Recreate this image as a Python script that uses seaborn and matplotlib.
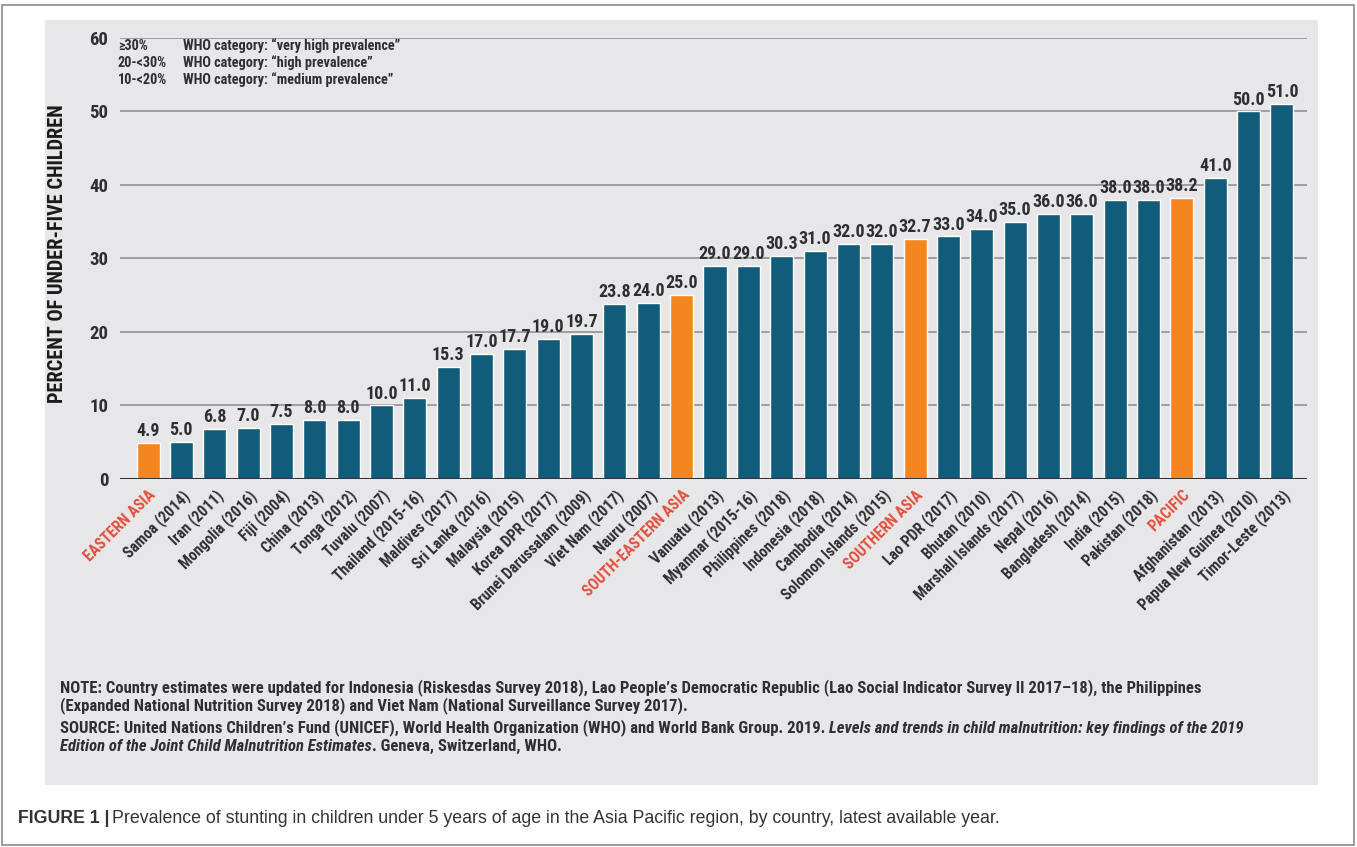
import matplotlib
matplotlib.use("Agg")
import matplotlib.pyplot as plt
from matplotlib import font_manager
import seaborn as sns
import pandas as pd
from matplotlib.patches import Rectangle

labels = ["EASTERN ASIA", "Samoa (2014)", "Iran (2011)", "Mongolia (2016)", "Fiji (2004)",
          "China (2013)", "Tonga (2012)", "Tuvalu (2007)", "Thailand (2015-16)", "Maldives (2017)",
          "Sri Lanka (2016)", "Malaysia (2015)", "Korea DPR (2017)", "Brunei Darussalam (2009)",
          "Viet Nam (2017)", "Nauru (2007)", "SOUTH-EASTERN ASIA", "Vanuatu (2013)",
          "Myanmar (2015-16)", "Philippines (2018)", "Indonesia (2018)", "Cambodia (2014)",
          "Solomon Islands (2015)", "SOUTHERN ASIA", "Lao PDR (2017)", "Bhutan (2010)",
          "Marshall Islands (2017)", "Nepal (2016)", "Bangladesh (2014)", "India (2015)",
          "Pakistan (2018)", "PACIFIC", "Afghanistan (2013)", "Papua New Guinea (2010)",
          "Timor-Leste (2013)"]
values = [4.9, 5.0, 6.8, 7.0, 7.5, 8.0, 8.0, 10.0, 11.0, 15.3, 17.0, 17.7, 19.0, 19.7,
          23.8, 24.0, 25.0, 29.0, 29.0, 30.3, 31.0, 32.0, 32.0, 32.7, 33.0, 34.0, 35.0,
          36.0, 36.0, 38.0, 38.0, 38.2, 41.0, 50.0, 51.0]
regions = ["EASTERN ASIA", "SOUTH-EASTERN ASIA", "SOUTHERN ASIA", "PACIFIC"]
kind = ["region" if l in regions else "country" for l in labels]

legend_ranges = ["\u226530%", "20-<30%", "10-<20%"]
legend_texts = ["WHO category: \u201cvery high prevalence\u201d",
                "WHO category: \u201chigh prevalence\u201d",
                "WHO category: \u201cmedium prevalence\u201d"]

note1 = ("NOTE: Country estimates were updated for Indonesia (Riskesdas Survey 2018), Lao People\u2019s "
         "Democratic Republic (Lao Social Indicator Survey II 2017\u201318), the Philippines")
note2 = "(Expanded National Nutrition Survey 2018) and Viet Nam (National Surveillance Survey 2017)."
source1 = ("SOURCE: United Nations Children\u2019s Fund (UNICEF), World Health Organization "
           "(WHO) and World Bank Group. 2019. ")
source1_it = "Levels and trends in child malnutrition: key findings of the 2019"
source2_it = "Edition of the Joint Child Malnutrition Estimates"
source2 = ". Geneva, Switzerland, WHO."
caption_bold = "FIGURE 1 |"
caption = ("Prevalence of stunting in children under 5 years of age in the Asia Pacific "
           "region, by country, latest available year.")

blue = "#115b7b"
orange = "#f5861f"
red_lbl = "#e2503a"
txt = "#2f2f33"
panel = "#e7e7e9"

df = pd.DataFrame({"label": labels, "value": values, "kind": kind})

# pick a narrow face if one is there
names = {f.name for f in font_manager.fontManager.ttflist}
narrow = None
for n in ["Liberation Sans Narrow", "DejaVu Sans Condensed", "Roboto Condensed"]:
    if n in names:
        narrow = n
        break
if narrow is None:
    narrow = "Liberation Sans"
    k = 0.86
else:
    k = 1.0

sns.set_theme(style="white")
plt.rcParams["font.family"] = [narrow, "DejaVu Sans"]

W, H = 1357, 847
fig = plt.figure(figsize=(W / 100, H / 100), dpi=100)
fig.patch.set_facecolor("white")


def fx(px):
    return px / W


def fy(py):
    return 1 - py / H


# outer frame and grey panel
fig.patches.append(Rectangle((0.0015, 0.002), 0.996, 0.992, transform=fig.transFigure,
                             fill=False, edgecolor="#8a8a8a", linewidth=1.2, zorder=-2))
fig.patches.append(Rectangle((fx(45), fy(785)), fx(1318 - 45), (785 - 20) / H,
                             transform=fig.transFigure, facecolor=panel, edgecolor="none",
                             zorder=-2))

ax = fig.add_axes([fx(120), fy(479), fx(1307 - 120), (479 - 38) / H])
ax.patch.set_alpha(0)

sns.barplot(data=df, x="label", y="value", hue="kind",
            palette={"country": blue, "region": orange},
            dodge=False, legend=False, width=0.69, saturation=1, ax=ax, zorder=3)

ax.set_ylim(0, 60)
ax.set_xlim(-0.84, 34.75)
ax.set_yticks(range(0, 61, 10))
for y in range(10, 61, 10):
    ax.axhline(y, color="#8a8a8a", lw=1.1, zorder=1)
ax.axhline(0, color="#333333", lw=2.2, zorder=4)
for s in ax.spines.values():
    s.set_visible(False)

ax.tick_params(axis="y", length=0, pad=8.5, labelsize=13.5 * k, labelcolor=txt)
ax.tick_params(axis="x", length=0, pad=6, labelsize=11.2 * k)
for t in ax.get_yticklabels():
    t.set_fontweight("bold")
ax.set_xticks(range(len(labels)))
ax.set_xticklabels(labels, rotation=45, ha="right", rotation_mode="anchor", fontweight="bold")
for t, kd in zip(ax.get_xticklabels(), kind):
    t.set_color(red_lbl if kd == "region" else txt)

for i, v in enumerate(values):
    ax.text(i, v + 0.4, f"{v:.1f}", ha="center", va="bottom", fontsize=13 * k,
            fontweight="bold", color=txt, zorder=5)

ax.set_xlabel("")
ax.set_ylabel("PERCENT OF UNDER-FIVE CHILDREN", fontsize=14.7 * k, fontweight="bold",
              color="#1a1a1a")
ax.yaxis.set_label_coords(-0.045, 0.51)

for j, (r, t) in enumerate(zip(legend_ranges, legend_texts)):
    yy = fy(46 + j * 17)
    fig.text(fx(118), yy, r, fontsize=10.3 * k, fontweight="bold", color=txt, va="center")
    fig.text(fx(183), yy, t, fontsize=10.3 * k, fontweight="bold", color=txt, va="center")

fs = 12.0 * k
fig.text(fx(60), fy(688), note1, fontsize=fs, fontweight="bold", color=txt, va="center")
fig.text(fx(60), fy(706), note2, fontsize=fs, fontweight="bold", color=txt, va="center")
t1 = fig.text(fx(60), fy(728), source1, fontsize=fs, fontweight="bold", color=txt, va="center")
fig.canvas.draw()
bb = t1.get_window_extent()
fig.text(bb.x1 / W, fy(728), source1_it, fontsize=fs, fontweight="bold",
         style="italic", color=txt, va="center")
t2 = fig.text(fx(60), fy(746), source2_it, fontsize=fs, fontweight="bold", style="italic",
              color=txt, va="center")
fig.canvas.draw()
bb = t2.get_window_extent()
fig.text(bb.x1 / W, fy(746), source2, fontsize=fs, fontweight="bold",
         color=txt, va="center")

fig.text(fx(18), fy(818), caption_bold, fontsize=12.8, fontweight="bold", color="#333333",
         family=["Liberation Sans", "DejaVu Sans"], va="center")
fig.text(fx(112), fy(818), caption, fontsize=12.8, color="#333333",
         family=["Liberation Sans", "DejaVu Sans"], va="center")

fig.savefig("out.png", dpi=100)
